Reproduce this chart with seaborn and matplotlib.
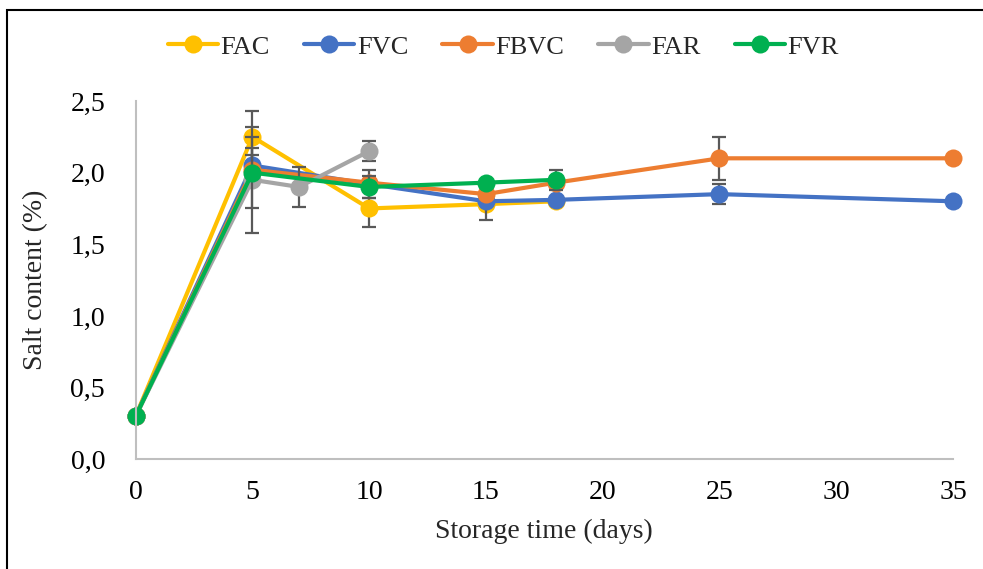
import matplotlib
matplotlib.use("Agg")
import matplotlib.pyplot as plt
import matplotlib.patches as mpatches
import seaborn as sns
import numpy as np
import pandas as pd

# salt content (%) per treatment
series_names = ["FAC", "FVC", "FBVC", "FAR", "FVR"]
colors = ["#FFC000", "#4472C4", "#ED7D31", "#A5A5A5", "#00B050"]

fac_days = [0, 5, 10, 15, 18]
fac_vals = [0.30, 2.25, 1.75, 1.78, 1.80]
fac_err = [0, 0.18, 0.13, 0, 0]

fvc_days = [0, 5, 10, 15, 18, 25, 35]
fvc_vals = [0.30, 2.05, 1.92, 1.80, 1.81, 1.85, 1.80]
fvc_err = [0, 0.12, 0.10, 0.13, 0, 0.07, 0]

fbvc_days = [0, 5, 10, 15, 18, 25, 35]
fbvc_vals = [0.30, 2.02, 1.93, 1.85, 1.93, 2.10, 2.10]
fbvc_err = [0, 0.10, 0, 0, 0, 0.15, 0]

far_days = [0, 5, 7, 10]
far_vals = [0.30, 1.95, 1.90, 2.15]
far_err = [0, 0.37, 0.14, 0.07]

fvr_days = [0, 5, 10, 15, 18]
fvr_vals = [0.30, 2.00, 1.90, 1.93, 1.95]
fvr_err = [0, 0.25, 0.08, 0, 0.07]

all_days = [fac_days, fvc_days, fbvc_days, far_days, fvr_days]
all_vals = [fac_vals, fvc_vals, fbvc_vals, far_vals, fvr_vals]
all_err = [fac_err, fvc_err, fbvc_err, far_err, fvr_err]

y_ticks = [0.0, 0.5, 1.0, 1.5, 2.0, 2.5]
x_ticks = [0, 5, 10, 15, 20, 25, 30, 35]

sns.set_style("white")
plt.rcParams["font.family"] = ["Liberation Serif", "DejaVu Serif"]

fig = plt.figure(figsize=(9.83, 5.69), dpi=100)
ax = fig.add_axes([0.138, 0.193, 0.8315, 0.6295])

for i, name in enumerate(series_names):
    df = pd.DataFrame({"day": all_days[i], "salt": all_vals[i]})
    # error bars first, at the series' own level
    ax.errorbar(df["day"], df["salt"], yerr=all_err[i], fmt="none",
                ecolor="#595959", elinewidth=1.6, capsize=5, capthick=1.6,
                zorder=2 + i * 0.1, clip_on=False)
    sns.lineplot(data=df, x="day", y="salt", ax=ax, color=colors[i],
                 linewidth=3, marker="o", markersize=13, markeredgewidth=0,
                 label=name, zorder=2.05 + i * 0.1, clip_on=False)

ax.set_xlim(0, 35)
ax.set_ylim(0, 2.5)
ax.set_xticks(x_ticks)
ax.set_yticks(y_ticks)
ax.set_yticklabels([f"{v:.1f}".replace(".", ",") for v in y_ticks])
ax.tick_params(axis="both", length=0, labelsize=20, colors="black")
ax.tick_params(axis="x", pad=15)
ax.tick_params(axis="y", pad=22)

for side in ["top", "right"]:
    ax.spines[side].set_visible(False)
for side in ["left", "bottom"]:
    ax.spines[side].set_color("#BFBFBF")
    ax.spines[side].set_linewidth(1.5)

ax.set_xlabel("Storage time (days)", fontsize=20, labelpad=10)
ax.set_ylabel("Salt content (%)", fontsize=20, labelpad=16)

ax.legend(loc="upper center", bbox_to_anchor=(0.512, 0.98),
          bbox_transform=fig.transFigure, ncol=5, frameon=False,
          fontsize=19, handlelength=1.9, handletextpad=0.1,
          columnspacing=1.3)

# outer frame of the chart area
frame = mpatches.Rectangle((7 / 983, -0.05), 1.2, 1 - 10 / 569 + 0.05,
                           transform=fig.transFigure, fill=False,
                           edgecolor="black", linewidth=1.5)
fig.patches.append(frame)

fig.savefig("out.png", dpi=100)
